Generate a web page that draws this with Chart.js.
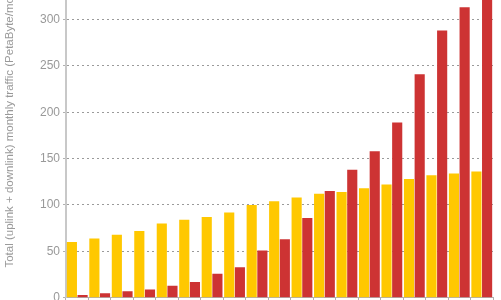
<!DOCTYPE html>
<html lang="en">
<head>
    <meta charset="UTF-8">
    <title>Monthly traffic</title>
    <script src="https://cdn.jsdelivr.net/npm/chart.js"></script>
    <style>
        html, body {
            margin: 0;
            padding: 0;
            background: #fff;
            overflow: hidden;
        }
        .frame {
            position: relative;
            width: 501px;
            height: 300px;
            overflow: hidden;
        }
        /* canvas is taller than the window; the top part is cropped like the original */
        .chart-box {
            position: absolute;
            left: 0;
            top: -100px;
            width: 501px;
            height: 408px;
        }
    </style>
</head>
<body>
    <div class="frame">
        <div class="chart-box"><canvas id="traffic"></canvas></div>
    </div>

    <script>
        // one entry per period (19 groups, labels are cropped off in the source)
        const periods = ['1', '2', '3', '4', '5', '6', '7', '8', '9', '10',
                         '11', '12', '13', '14', '15', '16', '17', '18', '19'];
        const yellowSeries = [60, 64, 68, 72, 80, 84, 87, 92, 100, 104, 108, 112, 114, 118, 122, 128, 132, 134, 136];
        const redSeries = [3, 5, 7, 9, 13, 17, 26, 33, 51, 63, 86, 115, 138, 158, 189, 241, 288, 313, 345];
        const yTicks = [0, 50, 100, 150, 200, 250, 300, 350];

        const axisGray = '#999999';

        new Chart(document.getElementById('traffic'), {
            type: 'bar',
            data: {
                labels: periods,
                datasets: [{
                    label: 'Voice',
                    data: yellowSeries,
                    backgroundColor: '#FFC800',
                    barPercentage: 0.95,
                    categoryPercentage: 0.95
                }, {
                    label: 'Data',
                    data: redSeries,
                    backgroundColor: '#CD3333',
                    barPercentage: 0.95,
                    categoryPercentage: 0.95
                }]
            },
            options: {
                responsive: true,
                maintainAspectRatio: false,
                animation: false,
                layout: {
                    padding: { top: 47, right: 8, bottom: 0, left: 0 }
                },
                plugins: {
                    legend: { display: false },
                    tooltip: { enabled: false }
                },
                scales: {
                    x: {
                        offset: true,
                        ticks: { display: false },
                        grid: {
                            offset: true,
                            drawOnChartArea: false,
                            tickLength: 3,
                            tickColor: '#b0b0b0'
                        },
                        border: { color: '#b0b0b0', width: 1 }
                    },
                    y: {
                        min: 0,
                        max: 378,
                        afterBuildTicks: (scale) => {
                            scale.ticks = yTicks.map(v => ({ value: v }));
                        },
                        afterFit: (scale) => {
                            scale.width = 66;
                        },
                        ticks: {
                            color: axisGray,
                            padding: 3,
                            font: { family: 'Liberation Sans, Arial, sans-serif', size: 12 }
                        },
                        grid: {
                            color: (ctx) => ctx.tick && ctx.tick.value === 0 ? 'rgba(0,0,0,0)' : '#9a9a9a',
                            tickColor: '#b0b0b0',
                            tickLength: 3,
                            lineWidth: 1
                        },
                        border: { color: '#c8c8c8', width: 2, dash: [2, 3] },
                        title: {
                            display: true,
                            text: 'Total (uplink + downlink) monthly traffic (PetaByte/month)',
                            color: axisGray,
                            padding: { top: 3, bottom: 0 },
                            font: { family: 'Liberation Sans, Arial, sans-serif', size: 11.5 }
                        }
                    }
                }
            }
        });
    </script>
</body>
</html>
